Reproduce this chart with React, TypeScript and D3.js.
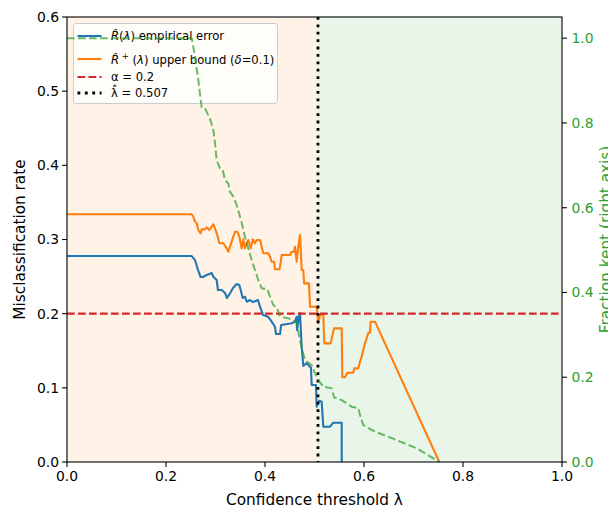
import * as d3 from 'd3';

// empirical error R̂(λ)
const lambdaErr = [0, 0.252, 0.2586, 0.2646, 0.27, 0.2747, 0.2822, 0.2923, 0.2956, 0.3024, 0.305, 0.3125, 0.3192, 0.3232, 0.3293, 0.3354, 0.3428, 0.348, 0.3509, 0.3549, 0.3596, 0.363, 0.3697, 0.3758, 0.3859, 0.3899, 0.396, 0.4061, 0.4135, 0.4202, 0.4222, 0.4303, 0.4327, 0.454, 0.4606, 0.464, 0.4646, 0.4693, 0.4707, 0.4741, 0.4774, 0.4842, 0.4929, 0.4943, 0.503, 0.5044, 0.5097, 0.5145, 0.5178, 0.5313, 0.538, 0.555, 0.555];
const empErr = [0.2777, 0.2777, 0.2723, 0.2589, 0.2494, 0.2494, 0.2521, 0.2548, 0.2498, 0.2454, 0.2319, 0.2319, 0.2279, 0.2211, 0.2274, 0.2346, 0.24, 0.2386, 0.2319, 0.2211, 0.2229, 0.2161, 0.2184, 0.2157, 0.2184, 0.2094, 0.1982, 0.1959, 0.1892, 0.1824, 0.1726, 0.1726, 0.1847, 0.187, 0.1892, 0.1959, 0.178, 0.1995, 0.2009, 0.1555, 0.1294, 0.1335, 0.1267, 0.1038, 0.1038, 0.0746, 0.0826, 0.0813, 0.0476, 0.0476, 0.053, 0.053, 0];

// upper bound R̂+(λ)
const lambdaUb = [0, 0.252, 0.2553, 0.2586, 0.262, 0.2653, 0.2701, 0.2721, 0.2788, 0.2822, 0.2875, 0.2923, 0.2956, 0.299, 0.3036, 0.3077, 0.3158, 0.3226, 0.3259, 0.3293, 0.336, 0.3394, 0.3441, 0.3481, 0.3529, 0.3562, 0.3596, 0.363, 0.3663, 0.3711, 0.3752, 0.3798, 0.3832, 0.3899, 0.3933, 0.3966, 0.4067, 0.4101, 0.4135, 0.4182, 0.4202, 0.429, 0.4303, 0.4337, 0.4505, 0.4539, 0.4586, 0.4606, 0.464, 0.4673, 0.4707, 0.4741, 0.4774, 0.479, 0.4889, 0.4909, 0.5044, 0.5077, 0.5111, 0.5178, 0.5198, 0.5327, 0.5394, 0.555, 0.5562, 0.5616, 0.5663, 0.5784, 0.5804, 0.5885, 0.5919, 0.5953, 0.5986, 0.602, 0.6055, 0.6087, 0.6121, 0.6135, 0.6222, 0.7521];
const upperBound = [0.334, 0.334, 0.3307, 0.324, 0.322, 0.3128, 0.3084, 0.3137, 0.3137, 0.3164, 0.3128, 0.3173, 0.3205, 0.315, 0.306, 0.2949, 0.2949, 0.2881, 0.2835, 0.2903, 0.3038, 0.3105, 0.3105, 0.3038, 0.2881, 0.3002, 0.2881, 0.2949, 0.2993, 0.2881, 0.3002, 0.2949, 0.2993, 0.2993, 0.2903, 0.2814, 0.2814, 0.2768, 0.2701, 0.2701, 0.2598, 0.2598, 0.2633, 0.2791, 0.2791, 0.2835, 0.2835, 0.2903, 0.2701, 0.2903, 0.306, 0.2589, 0.2589, 0.2409, 0.2409, 0.2094, 0.2094, 0.187, 0.1982, 0.1982, 0.16, 0.16, 0.1802, 0.1802, 0.1142, 0.1142, 0.1204, 0.1204, 0.1263, 0.1263, 0.1352, 0.142, 0.151, 0.16, 0.1668, 0.1743, 0.1743, 0.1892, 0.1892, 0];

// fraction kept (right axis)
const lambdaKept = [0, 0.252, 0.2586, 0.2653, 0.2721, 0.2788, 0.2889, 0.2956, 0.299, 0.3024, 0.3091, 0.3145, 0.3192, 0.3259, 0.3293, 0.336, 0.3428, 0.3529, 0.3596, 0.3663, 0.3731, 0.3798, 0.3865, 0.3933, 0.4046, 0.4101, 0.4168, 0.4236, 0.4303, 0.4438, 0.4572, 0.464, 0.4693, 0.4741, 0.4808, 0.4943, 0.501, 0.5077, 0.5178, 0.5347, 0.5394, 0.555, 0.5752, 0.5885, 0.5919, 0.5986, 0.6222, 0.6491, 0.7065, 0.7521];
const fracKept = [1.0, 1.0, 0.956, 0.901, 0.837, 0.834, 0.81, 0.783, 0.752, 0.712, 0.693, 0.69, 0.665, 0.657, 0.6375, 0.626, 0.606, 0.565, 0.531, 0.504, 0.476, 0.453, 0.429, 0.41, 0.408, 0.39, 0.37, 0.365, 0.343, 0.34, 0.335, 0.327, 0.2955, 0.268, 0.2406, 0.2288, 0.209, 0.1934, 0.1776, 0.1738, 0.1526, 0.146, 0.1305, 0.127, 0.111, 0.0873, 0.0715, 0.0597, 0.0323, 0];

const alpha = 0.2;
const lambdaHat = 0.507;

const xTicks = [0, 0.2, 0.4, 0.6, 0.8, 1.0];
const yTicks = [0, 0.1, 0.2, 0.3, 0.4, 0.5, 0.6];
const y2Ticks = [0, 0.2, 0.4, 0.6, 0.8, 1.0];

const W = 608;
const H = 512;
const margin = { top: 17, right: 46, bottom: 50, left: 67 };
const FONT = 'DejaVu Sans, sans-serif';

export default function App() {
  const x = d3.scaleLinear().domain([0, 1]).range([margin.left, W - margin.right]);
  const y = d3.scaleLinear().domain([0, 0.6]).range([H - margin.bottom, margin.top]);
  const y2 = d3.scaleLinear().domain([0, 1.05]).range([H - margin.bottom, margin.top]);

  const left = margin.left;
  const right = W - margin.right;
  const top = margin.top;
  const bottom = H - margin.bottom;

  const line = d3.line<[number, number]>().x(d => x(d[0])).y(d => y(d[1]));
  const line2 = d3.line<[number, number]>().x(d => x(d[0])).y(d => y2(d[1]));

  const errPath = line(lambdaErr.map((l, i) => [l, empErr[i]]));
  const ubPath = line(lambdaUb.map((l, i) => [l, upperBound[i]]));
  const keptPath = line2(lambdaKept.map((l, i) => [l, fracKept[i]]));

  // legend handles
  const legendRows = [
    { y: 36, color: '#1f77b4', dash: undefined, width: 2.1 },
    { y: 59, color: '#ff7f0e', dash: undefined, width: 2.1 },
    { y: 77, color: '#d62728', dash: '7.7 3.3', width: 2.1 },
    { y: 93, color: '#000', dash: '2.8 4.6', width: 2.8 },
  ];

  return (
    <svg width={W} height={H} style={{ position: 'absolute', left: 0, top: 0, background: '#fff' }} fontFamily={FONT}>
      <defs>
        <clipPath id="plot">
          <rect x={left} y={top} width={right - left} height={bottom - top} />
        </clipPath>
      </defs>

      {/* regions */}
      <rect x={x(0)} y={top} width={x(lambdaHat) - x(0)} height={bottom - top} fill="#ff7f0e" fillOpacity={0.1} />
      <rect x={x(lambdaHat)} y={top} width={x(1) - x(lambdaHat)} height={bottom - top} fill="#2ca02c" fillOpacity={0.1} />

      <g clipPath="url(#plot)">
        <path d={errPath ?? ''} fill="none" stroke="#1f77b4" strokeWidth={2.1} strokeLinejoin="round" />
        <path d={ubPath ?? ''} fill="none" stroke="#ff7f0e" strokeWidth={2.1} strokeLinejoin="round" />
        <line x1={left} x2={right} y1={y(alpha)} y2={y(alpha)} stroke="#d62728" strokeWidth={2.1} strokeDasharray="7.7 3.3" />
        <line x1={x(lambdaHat)} x2={x(lambdaHat)} y1={top} y2={bottom} stroke="#000" strokeWidth={2.8} strokeDasharray="2.8 4.6" />
      </g>

      {/* legend */}
      <g>
        <rect x={73.5} y={23.5} width={204} height={80} rx={2.5} fill="#fff" fillOpacity={0.8} stroke="#cccccc" strokeWidth={1} />
        {legendRows.map((r, i) => (
          <line key={i} x1={77.5} x2={101.5} y1={r.y} y2={r.y} stroke={r.color} strokeWidth={r.width} strokeDasharray={r.dash} />
        ))}
        <text x={111} y={40} fontSize={11.6} fill="#000">
          <tspan fontStyle="italic">{'R\u0302'}</tspan>
          <tspan>(</tspan>
          <tspan fontStyle="italic">λ</tspan>
          <tspan>) empirical error</tspan>
        </text>
        <text x={111} y={64} fontSize={11.6} fill="#000">
          <tspan fontStyle="italic">{'R\u0302'}</tspan>
          <tspan dy={-5} fontSize={8.5}>{' +'}</tspan>
          <tspan dy={5}>{' ('}</tspan>
          <tspan fontStyle="italic">λ</tspan>
          <tspan>) upper bound (</tspan>
          <tspan fontStyle="italic">δ</tspan>
          <tspan>=0.1)</tspan>
        </text>
        <text x={111} y={81} fontSize={11.6} fill="#000">α = 0.2</text>
        <text x={111} y={97} fontSize={11.6} fill="#000">{'λ\u0302 = 0.507'}</text>
      </g>

      {/* right axis series (drawn on top, like a twin axes) */}
      <g clipPath="url(#plot)">
        <path d={keptPath ?? ''} fill="none" stroke="#2ca02c" strokeOpacity={0.7} strokeWidth={2} strokeDasharray="7.7 3.3" />
      </g>

      {/* frame */}
      <rect x={left} y={top} width={right - left} height={bottom - top} fill="none" stroke="#000" strokeWidth={1.1} />

      {/* x axis */}
      {xTicks.map(t => (
        <g key={t} transform={`translate(${x(t)},${bottom})`}>
          <line y2={4.9} stroke="#000" strokeWidth={1.1} />
          <text y={19} textAnchor="middle" fontSize={13.9} fill="#000">{t.toFixed(1)}</text>
        </g>
      ))}
      <text x={(left + right) / 2} y={505} textAnchor="middle" fontSize={15.3} fill="#000">Confidence threshold λ</text>

      {/* left y axis */}
      {yTicks.map(t => (
        <g key={t} transform={`translate(${left},${y(t)})`}>
          <line x2={-4.9} stroke="#000" strokeWidth={1.1} />
          <text x={-8} dy="0.35em" textAnchor="end" fontSize={13.9} fill="#000">{t.toFixed(1)}</text>
        </g>
      ))}
      <text transform={`translate(25,${(top + bottom) / 2}) rotate(-90)`} textAnchor="middle" fontSize={15.3} fill="#000">Misclassification rate</text>

      {/* right y axis */}
      {y2Ticks.map(t => (
        <g key={t} transform={`translate(${right},${y2(t)})`}>
          <line x2={4.9} stroke="#000" strokeWidth={1.1} />
          <text x={9.5} dy="0.35em" textAnchor="start" fontSize={13.9} fill="#2ca02c">{t.toFixed(1)}</text>
        </g>
      ))}
      <text transform={`translate(611,${(top + bottom) / 2}) rotate(-90)`} textAnchor="middle" fontSize={15.3} fill="#2ca02c">Fraction kept (right axis)</text>
    </svg>
  );
}
